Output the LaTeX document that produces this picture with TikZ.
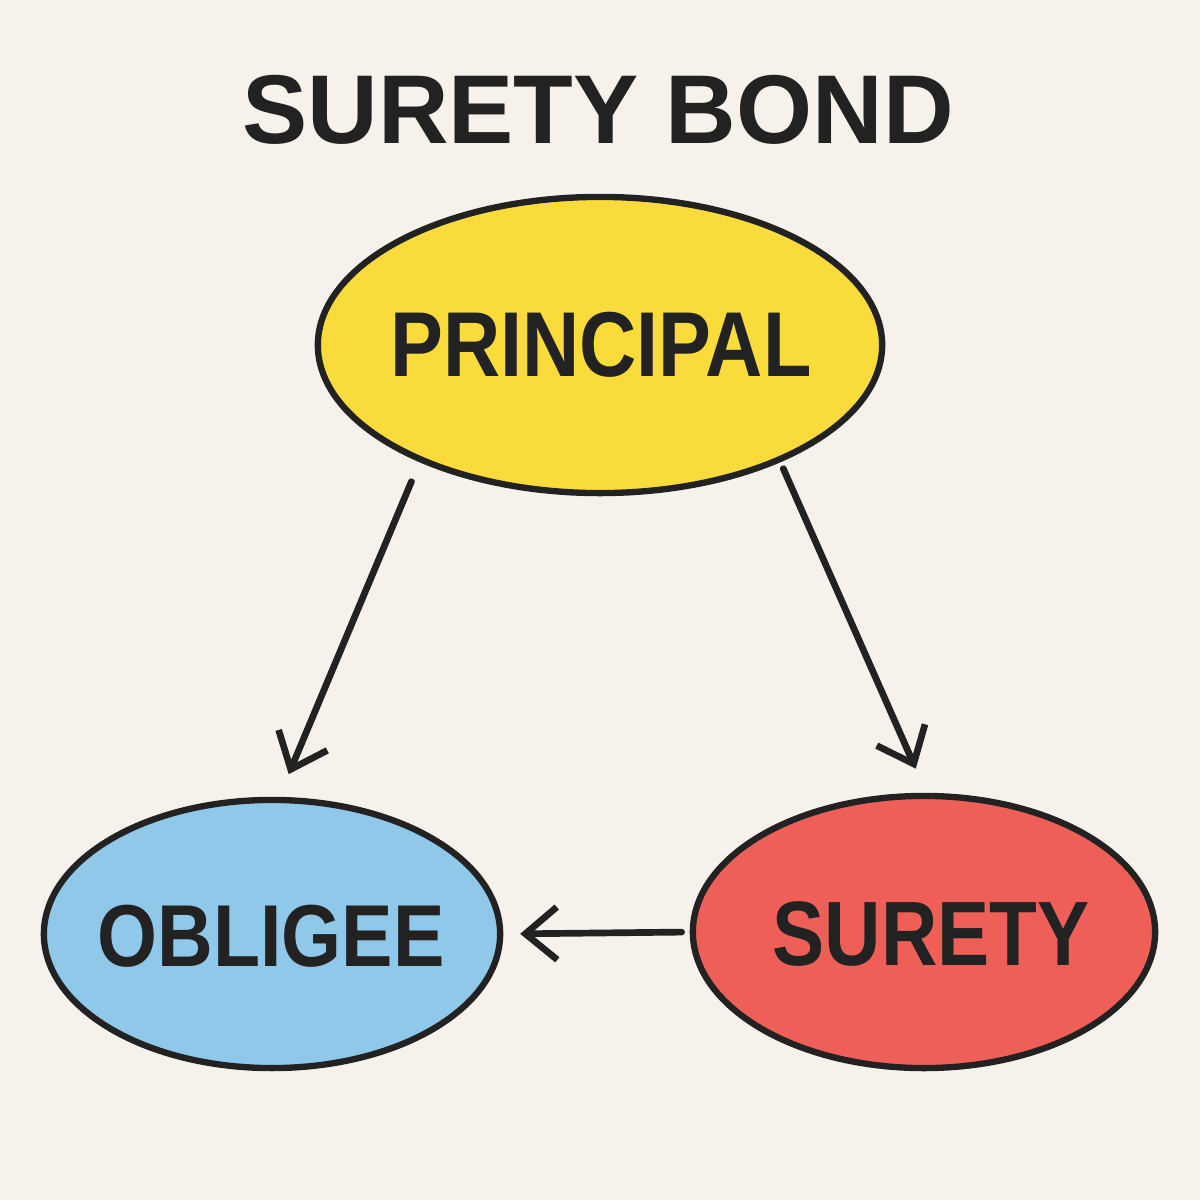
\documentclass[tikz,border=0pt]{standalone}
\usepackage{fontspec}
\setmainfont{Liberation Sans}
\usetikzlibrary{arrows.meta,shapes.geometric}
\definecolor{bgc}{HTML}{F6F2EB}
\definecolor{ink}{HTML}{222222}
\definecolor{yel}{HTML}{F9DB3C}
\definecolor{blu}{HTML}{8FC8E8}
\definecolor{redc}{HTML}{EE6057}
\begin{document}
\begin{tikzpicture}[x=0.01cm,y=-0.01cm,
  ell/.style={ellipse, draw=ink, line width=1.8pt, inner sep=0pt},
  lbl/.style={text=ink, inner sep=0pt},
  arr/.style={draw=ink, line width=1.9pt, line cap=round,
    -{Straight Barb[length=9pt,width=15pt,line width=1.9pt]}}]
\fill[bgc] (0,0) rectangle (1200,1200);
\useasboundingbox (0,0) rectangle (1200,1200);

\node[lbl] (title) at (598,110) {\fontsize{27.8}{30}\selectfont\bfseries SURETY BOND};

\node[ell, fill=yel, minimum width=5.64cm, minimum height=2.96cm] (principal) at (600,345) {};
\node[lbl] (ptext) at (601,345) {\scalebox{0.86}[1]{\fontsize{26.2}{28}\selectfont\bfseries PRINCIPAL}};

\node[ell, fill=blu, minimum width=4.56cm, minimum height=2.68cm] (obligee) at (272,934) {};
\node[lbl] (otext) at (271,936) {\scalebox{0.877}[1]{\fontsize{25}{27}\selectfont\bfseries OBLIGEE}};

\node[ell, fill=redc, minimum width=4.62cm, minimum height=2.72cm] (surety) at (924,932) {};
\node[lbl] (stext) at (931,934) {\scalebox{0.855}[1]{\fontsize{26}{28}\selectfont\bfseries SURETY}};

\draw[arr, shorten <=6pt, shorten >=7pt] (principal.213.7) -- (obligee.87.8);
\draw[arr, shorten <=2pt, shorten >=7.5pt] (principal.327.7) -- (surety.89.6);
\draw[arr, shorten <=2.3pt, shorten >=4.8pt] (surety.180) -- (obligee.0);
\end{tikzpicture}
\end{document}
